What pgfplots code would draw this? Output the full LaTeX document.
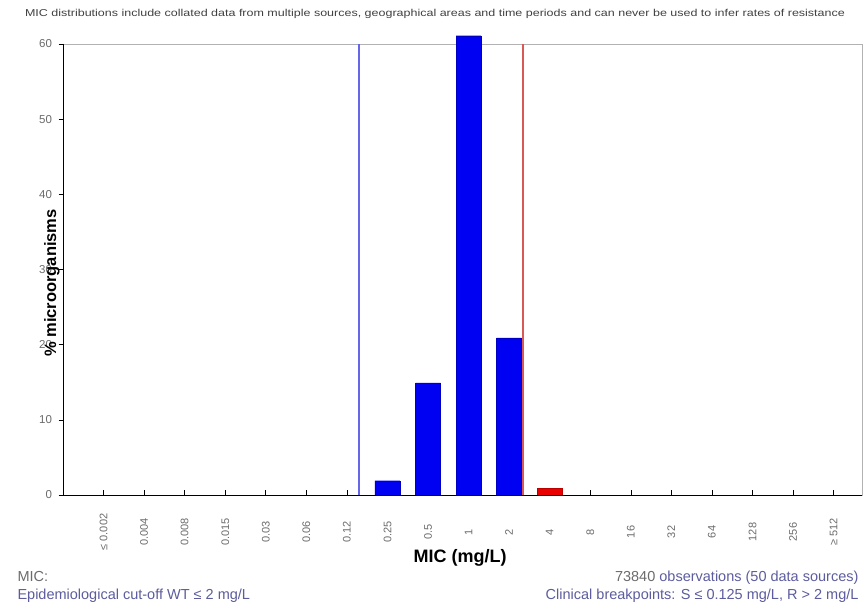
\documentclass[border=0pt]{standalone}
\usepackage{fontspec}
\setmainfont{Liberation Sans}
\usepackage{pgfplots}
\pgfplotsset{compat=1.18}
\definecolor{tickgray}{rgb}{0.42,0.42,0.42}
\definecolor{slate}{rgb}{0.36,0.36,0.62}
\definecolor{cutblue}{rgb}{0.40,0.40,0.92}
\definecolor{cutred}{rgb}{0.85,0.35,0.35}
\definecolor{barblue}{rgb}{0.0,0.0,0.95}
\definecolor{barred}{rgb}{0.92,0.0,0.0}
\begin{document}
\begin{tikzpicture}[x=1pt,y=1pt]
\useasboundingbox (0,0) rectangle (863,605);
\begin{axis}[
  at={(63pt,110pt)}, anchor=south west,
  scale only axis, width=799pt, height=451pt,
  xmin=-1, xmax=18.7, ymin=0, ymax=60,
  clip=false,
  axis line style={draw=gray!60},
  xtick={0,...,18},
  xticklabels={≤ 0.002,0.004,0.008,0.015,0.03,0.06,0.12,0.25,0.5,1,2,4,8,16,32,64,128,256,≥ 512},
  xticklabel style={yshift=-37pt, rotate=90, anchor=center, font=\fontsize{11}{13}\selectfont, text=tickgray},
  ytick={0,10,...,60},
  yticklabel style={xshift=-3pt, font=\fontsize{11.5}{13}\selectfont, text=tickgray},
  /pgf/number format/assume math mode=true,
  xtick style={draw=black, line width=0.6pt},
  ytick style={draw=black, line width=0.6pt},
  xtick pos=left, ytick pos=left,
  tick align=outside,
  xtick align=inside,
  major tick length=4.5pt,
  xlabel={\textbf{MIC (mg/L)}},
  xlabel style={at={(axis description cs:0.497,-0.14)}, anchor=center, font=\fontsize{18}{20}\selectfont},
  ylabel={\textbf{\% microorganisms}},
  ylabel style={at={(axis description cs:-0.0138,0.47)}, anchor=center, font=\fontsize{16.5}{18}\selectfont},
]
\addplot[ybar, bar shift=0pt, bar width=25pt, fill=barblue, draw=barblue!80!black]
  coordinates {(7,1.9) (8,14.9) (9,61.1) (10,20.9)};
\addplot[ybar, bar shift=0pt, bar width=25pt, fill=barred, draw=barred!80!black]
  coordinates {(11,0.9)};
\addplot[color=cutblue, line width=2pt, mark=none] coordinates {(6.31,0) (6.31,60)};
\addplot[color=cutred, line width=2pt, mark=none] coordinates {(10.33,0) (10.33,60)};
\end{axis}
\draw[black, line width=0.8pt] (63,561) -- (63,110) -- (862,110);
\node[text=black!75] at (435,591) {\scalebox{1.25}[1]{\fontsize{10}{11}\selectfont MIC distributions include collated data from multiple sources, geographical areas and time periods and can never be used to infer rates of resistance}};
\node[anchor=base west, font=\fontsize{14.5}{16}\selectfont, text=tickgray] at (14,23) {MIC:};
\node[anchor=base west, font=\fontsize{14.5}{16}\selectfont, text=slate] at (14,5) {Epidemiological cut-off WT ≤ 2 mg/L};
\node[anchor=base east, font=\fontsize{14.5}{16}\selectfont, text=slate] at (862,23) {\textcolor{tickgray}{73840} observations (50 data sources)};
\node[anchor=base east, font=\fontsize{14.5}{16}\selectfont, text=slate] at (862,5) {Clinical breakpoints: S ≤ 0.125 mg/L, R > 2 mg/L};
\end{tikzpicture}
\end{document}
